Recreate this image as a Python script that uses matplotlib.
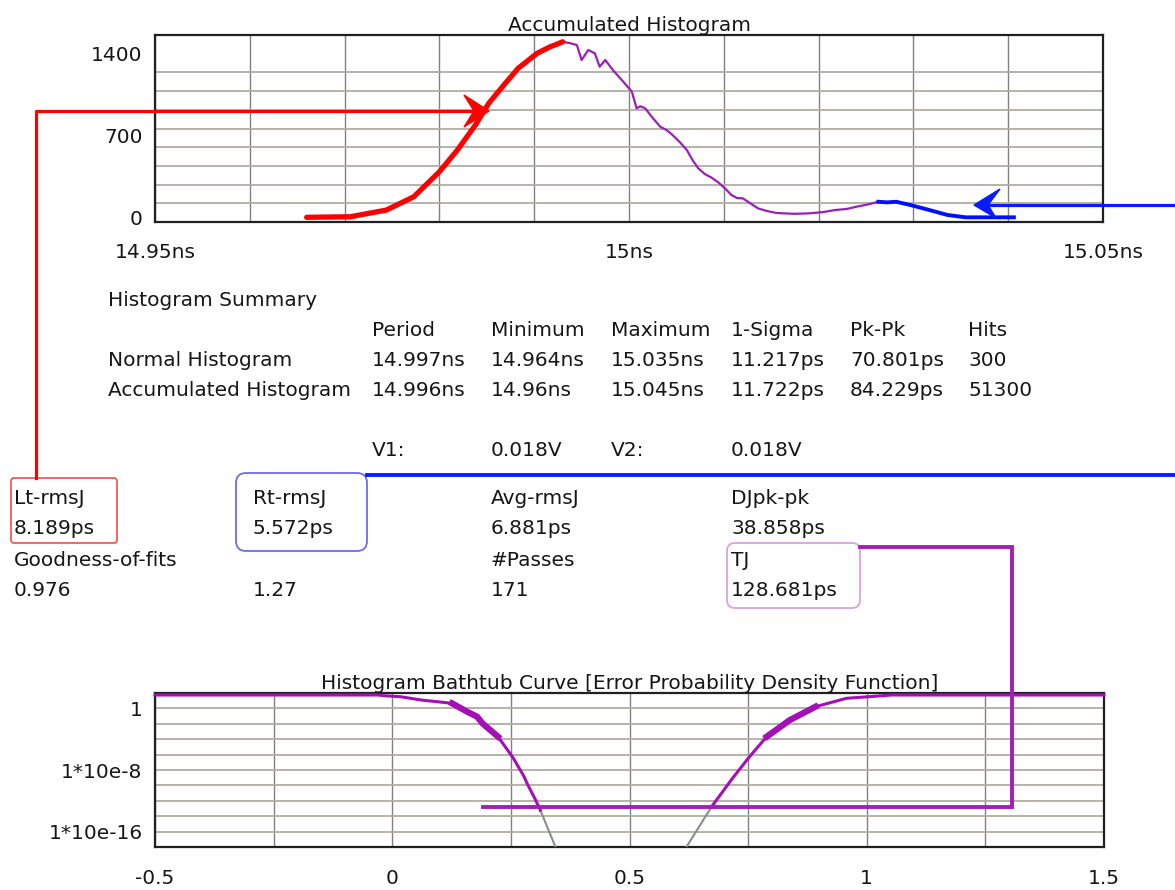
import numpy as np
import matplotlib
matplotlib.use("Agg")
import matplotlib.pyplot as plt
from matplotlib.patches import FancyBboxPatch, Polygon
from matplotlib.ticker import FixedLocator, NullFormatter

# ---------------- data ----------------
# Accumulated histogram: hits per time bin
hist_time_ns = [14.9660, 14.9706, 14.9744, 14.9773, 14.9800, 14.9819, 14.9838, 14.9852,
                14.9868, 14.9883, 14.9903, 14.9917, 14.9923, 14.9930, 14.9938, 14.9945,
                14.9950, 14.9957, 14.9964, 14.9969, 14.9975, 14.9983, 14.9994, 15.0003,
                15.0008, 15.0012, 15.0017, 15.0025, 15.0033, 15.0040, 15.0046, 15.0054,
                15.0061, 15.0067, 15.0073, 15.0080, 15.0087, 15.0094, 15.0101, 15.0108,
                15.0114, 15.0120, 15.0128, 15.0136, 15.0145, 15.0155, 15.0163, 15.0175,
                15.0190, 15.0205, 15.0217, 15.0230, 15.0240, 15.0252, 15.0263, 15.0272,
                15.0282, 15.0297, 15.0317, 15.0336, 15.0355, 15.0406]
hist_hits = [0, 5, 62, 176, 390, 576, 790, 975,
             1132, 1275, 1403, 1460, 1478, 1502, 1490, 1474,
             1346, 1432, 1403, 1289, 1346, 1260, 1160, 1075,
             933, 950, 933, 850, 775, 745, 704, 640,
             576, 490, 420, 370, 340, 300, 250, 191,
             165, 163, 120, 77, 55, 38, 34, 30,
             34, 45, 62, 72, 91, 110, 133, 128,
             133, 105, 62, 20, 0, 0]

# Extent of the left (red) and right (blue) tail fits
left_fit_end_ns = 14.9930
right_fit_start_ns = 15.0263

hist_xticks = [14.95, 15.0, 15.05]
hist_xtick_labels = ["14.95ns", "15ns", "15.05ns"]
hist_yticks = [0, 700, 1400]
hist_ytick_labels = ["0", "700", "1400"]

# Bathtub curve (error probability vs unit interval)
bath_left_ui = [-0.5, -0.03, -0.019, 0.017, 0.061, 0.126, 0.158, 0.179, 0.190,
                0.223, 0.255, 0.278, 0.284, 0.302, 0.312]
bath_left_ber = [55, 55, 45, 33, 12.3, 4.6, 0.37, 0.083, 0.0115,
                 2.1e-4, 3.6e-7, 1.3e-9, 1.9e-10, 1.3e-12, 6.3e-14]
bath_left_ext_ui = [0.312, 0.344]
bath_left_ext_ber = [6.3e-14, 1e-18]

bath_right_ext_ui = [0.620, 0.673]
bath_right_ext_ber = [1e-18, 1.7e-13]
bath_right_ui = [0.673, 0.717, 0.753, 0.789, 0.838, 0.892, 0.957, 1.004, 1.053, 1.5]
bath_right_ber = [1.7e-13, 8.3e-10, 5.4e-7, 2.1e-4, 0.031, 1.66, 20.4, 33, 55, 55]

bath_xticks = [-0.5, 0, 0.5, 1, 1.5]
bath_xtick_labels = ["-0.5", "0", "0.5", "1", "1.5"]
bath_yticks = [1, 1e-8, 1e-16]
bath_ytick_labels = ["1", "1*10e-8", "1*10e-16"]

# Summary table
summary_title = "Histogram Summary"
summary_columns = ["Period", "Minimum", "Maximum", "1-Sigma", "Pk-Pk", "Hits"]
summary_rows = ["Normal Histogram", "Accumulated Histogram"]
normal_values = ["14.997ns", "14.964ns", "15.035ns", "11.217ps", "70.801ps", "300"]
accum_values = ["14.996ns", "14.96ns", "15.045ns", "11.722ps", "84.229ps", "51300"]
threshold_labels = ["V1:", "0.018V", "V2:", "0.018V"]
jitter_names_1 = ["Lt-rmsJ", "Rt-rmsJ", "Avg-rmsJ", "DJpk-pk"]
jitter_values_1 = ["8.189ps", "5.572ps", "6.881ps", "38.858ps"]
jitter_names_2 = ["Goodness-of-fits", "", "#Passes", "TJ"]
jitter_values_2 = ["0.976", "1.27", "171", "128.681ps"]

# ---------------- figure ----------------
W, H = 1175, 890
plt.rcParams["font.family"] = ["DejaVu Sans"]
FS = 14.5
TXT = "#161616"
PURPLE = "#9a1fb8"
MAGENTA = "#a40fb6"
VGRID = dict(color="#808080", lw=1.0)
HGRID = dict(color="#b2ad9f", lw=1.3)

fig = plt.figure(figsize=(W / 100, H / 100), dpi=100)
fig.patch.set_facecolor("white")


def box(x0, y_top, x1, y_bot):
    return [x0 / W, 1 - y_bot / H, (x1 - x0) / W, (y_bot - y_top) / H]


def style_frame(ax):
    for s in ax.spines.values():
        s.set_linewidth(1.6)
        s.set_color("#202020")
    ax.tick_params(which="both", length=0, labelsize=FS, colors=TXT)
    ax.yaxis.set_minor_formatter(NullFormatter())
    ax.xaxis.set_minor_formatter(NullFormatter())
    # grid on both major and minor positions so every division line shows
    ax.grid(True, which="both", axis="x", **VGRID)
    ax.grid(True, which="both", axis="y", **HGRID)
    ax.set_axisbelow(True)


# ---- accumulated histogram ----
ax1 = fig.add_axes(box(155, 35, 1103, 222))
t = np.array(hist_time_ns)
h = np.array(hist_hits)
ax1.plot(t, h, color=PURPLE, lw=1.6, zorder=3)
m_left = t <= left_fit_end_ns
ax1.plot(t[m_left], h[m_left], color="#ff0000", lw=3.8, solid_capstyle="round", zorder=4)
m_right = t >= right_fit_start_ns
ax1.plot(t[m_right], h[m_right], color="#0010ff", lw=2.8, zorder=4)
ax1.set_xlim(14.95, 15.05)
ax1.set_ylim(-40, 1560)
ax1.set_xticks(hist_xticks)
ax1.set_xticklabels(hist_xtick_labels)
ax1.set_xticks(np.linspace(14.95, 15.05, 11), minor=True)
ax1.set_yticks(hist_yticks)
ax1.set_yticklabels(hist_ytick_labels)
ax1.set_yticks(np.linspace(-40, 1560, 11), minor=True)
style_frame(ax1)
# the value ticks themselves are not division lines
ax1.grid(False, which="major", axis="y")
ax1.tick_params(axis="x", pad=15)
ax1.tick_params(axis="y", pad=9)
ax1.set_title("Accumulated Histogram", fontsize=FS, color=TXT, pad=3)

# ---- bathtub curve ----
ax2 = fig.add_axes(box(155, 693, 1104, 847))
ax2.set_yscale("log")
ax2.set_xlim(-0.5, 1.5)
ax2.set_ylim(1e-18, 1e2)
ax2.plot(bath_left_ext_ui, bath_left_ext_ber, color="#8c8c8c", lw=1.5, zorder=3)
ax2.plot(bath_right_ext_ui, bath_right_ext_ber, color="#8c8c8c", lw=1.5, zorder=3)
ax2.plot(bath_left_ui, bath_left_ber, color=MAGENTA, lw=2.2, zorder=4, clip_on=False)
ax2.plot(bath_right_ui, bath_right_ber, color=MAGENTA, lw=2.2, zorder=4, clip_on=False)
lu, lb = np.array(bath_left_ui), np.array(bath_left_ber)
band = (lu >= 0.126) & (lu <= 0.223)
ax2.plot(lu[band], lb[band], color=MAGENTA, lw=4.5, zorder=4)
ru, rb = np.array(bath_right_ui), np.array(bath_right_ber)
band = (ru >= 0.789) & (ru <= 0.892)
ax2.plot(ru[band], rb[band], color=MAGENTA, lw=4.5, zorder=4)
ax2.set_xticks(bath_xticks)
ax2.set_xticklabels(bath_xtick_labels)
ax2.xaxis.set_minor_locator(FixedLocator(np.arange(-0.5, 1.51, 0.25)))
ax2.yaxis.set_major_locator(FixedLocator(bath_yticks))
ax2.set_yticklabels(bath_ytick_labels)
ax2.yaxis.set_minor_locator(FixedLocator(10.0 ** np.arange(-18, 3, 2)))
style_frame(ax2)
ax2.tick_params(axis="x", pad=16)
ax2.tick_params(axis="y", pad=9)
ax2.set_title("Histogram Bathtub Curve [Error Probability Density Function]",
              fontsize=FS, color=TXT, pad=1)

# ---- overlay for text, callout boxes and connectors ----
ov = fig.add_axes([0, 0, 1, 1], zorder=10)
ov.set_xlim(0, W)
ov.set_ylim(H, 0)
ov.axis("off")
ov.patch.set_alpha(0)


def txt(x, y, s):
    ov.text(x, y, s, fontsize=FS, color=TXT, ha="left", va="center")


col_x = [372, 491, 611, 731, 850, 968]
txt(108, 301, summary_title)
for x, s in zip(col_x, summary_columns):
    txt(x, 331, s)
txt(108, 361, summary_rows[0])
txt(108, 391, summary_rows[1])
for x, s in zip(col_x, normal_values):
    txt(x, 361, s)
for x, s in zip(col_x, accum_values):
    txt(x, 391, s)
for x, s in zip(col_x[:4], threshold_labels):
    txt(x, 451, s)

jit_x = [14, 253, 491, 731]
for x, s in zip(jit_x, jitter_names_1):
    txt(x, 499, s)
for x, s in zip(jit_x, jitter_values_1):
    txt(x, 529, s)
for x, s in zip(jit_x, jitter_names_2):
    if s:
        txt(x, 560, s)
for x, s in zip(jit_x, jitter_values_2):
    txt(x, 590, s)

# callout boxes
ov.add_patch(FancyBboxPatch((11, 478), 106, 65, boxstyle="round,pad=0,rounding_size=3",
                            fc="none", ec="#f25a5a", lw=1.3))
ov.add_patch(FancyBboxPatch((236, 473), 131, 78, boxstyle="round,pad=0,rounding_size=10",
                            fc="none", ec="#6b6bf2", lw=1.3))
ov.add_patch(FancyBboxPatch((727, 543), 133, 65, boxstyle="round,pad=0,rounding_size=8",
                            fc="none", ec="#d8a2e2", lw=1.3))

# red connector: Lt-rmsJ -> left tail fit
ov.plot([36, 36, 478], [478, 111, 111], color="#ff0000", lw=2.3,
        solid_joinstyle="round")
ov.add_patch(Polygon([[489, 111], [464, 95], [474, 111], [464, 127]],
                     closed=True, fc="#ff0000", ec="#ff0000", lw=1))

# blue connectors: Rt-rmsJ -> right tail fit
ov.plot([367, W], [475, 475], color="#0a1cff", lw=2.8)
ov.plot([985, W], [205, 205], color="#0a1cff", lw=2.3)
ov.add_patch(Polygon([[974, 205], [1000, 189], [988, 205], [996, 218]],
                     closed=True, fc="#0a1cff", ec="#0a1cff", lw=1))

# purple connector: TJ -> bathtub opening
ov.plot([860, 1012, 1012, 483], [547, 547, 807, 807], color="#a51db8", lw=2.8,
        solid_joinstyle="miter")

fig.savefig("out.png", dpi=100, facecolor="white")
